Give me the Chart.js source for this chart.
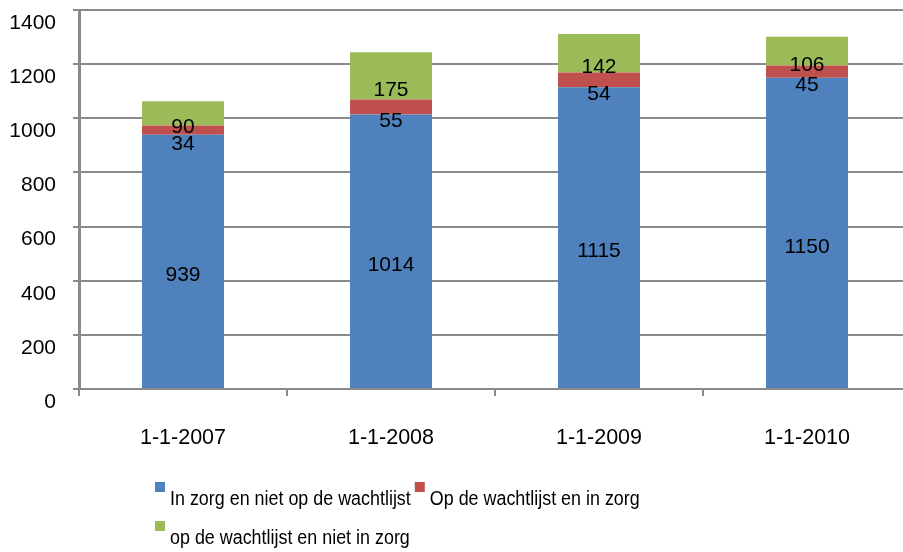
<!DOCTYPE html>
<html>
<head>
<meta charset="utf-8">
<script src="https://cdn.jsdelivr.net/npm/chart.js@4"></script>
<style>
    html, body { margin: 0; padding: 0; background: #fff; overflow: hidden; }
    #wrap { width: 903px; height: 552px; overflow: hidden; }
</style>
</head>
<body>
<div id="wrap"><canvas id="myChart" width="915" height="552"></canvas></div>
<script>
const categories = ['1-1-2007', '1-1-2008', '1-1-2009', '1-1-2010'];
const inZorg = [939, 1014, 1115, 1150];
const wachtInZorg = [34, 55, 54, 45];
const wachtNietInZorg = [90, 175, 142, 106];
const yTicks = [0, 200, 400, 600, 800, 1000, 1200, 1400];

const FONT = 'Liberation Sans, Arial, sans-serif';
const GRID = '#8a8a8a';

// Labels in the middle of each segment (shifted down a bit like the original)
const valueLabels = {
    id: 'valueLabels',
    afterDatasetsDraw(chart) {
        const ctx = chart.ctx;
        ctx.save();
        ctx.font = '21px ' + FONT;
        ctx.fillStyle = '#000';
        ctx.textAlign = 'center';
        ctx.textBaseline = 'middle';
        chart.data.datasets.forEach((ds, i) => {
            chart.getDatasetMeta(i).data.forEach((bar, j) => {
                const mid = (bar.y + bar.base) / 2;
                ctx.fillText(String(ds.data[j]), bar.x, mid + 14);
            });
        });
        ctx.restore();
    }
};

// Legend like the original: left aligned rows, slightly narrow text
const bottomLegend = {
    id: 'bottomLegend',
    afterDraw(chart) {
        const ctx = chart.ctx;
        const ds = chart.data.datasets;
        ctx.save();
        ctx.font = '20px ' + FONT;
        ctx.textBaseline = 'alphabetic';
        const rows = [[0, 1], [2]];
        const baselines = [505, 544];
        rows.forEach((row, r) => {
            let x = 155;
            row.forEach(i => {
                const w = ctx.measureText(ds[i].label).width * 0.895;
                ctx.fillStyle = ds[i].backgroundColor;
                ctx.fillRect(x, baselines[r] - 23, 10, 10);
                ctx.fillStyle = '#000';
                ctx.fillText(ds[i].label, x + 15, baselines[r], w);
                x += 15 + w + 4;
            });
        });
        ctx.restore();
    }
};

new Chart(document.getElementById('myChart'), {
    type: 'bar',
    data: {
        labels: categories,
        datasets: [
            {
                label: 'In zorg en niet op de wachtlijst',
                data: inZorg,
                backgroundColor: '#4F81BD'
            },
            {
                label: 'Op de wachtlijst en in zorg',
                data: wachtInZorg,
                backgroundColor: '#C0504D'
            },
            {
                label: 'op de wachtlijst en niet in zorg',
                data: wachtNietInZorg,
                backgroundColor: '#9BBB59'
            }
        ]
    },
    options: {
        responsive: false,
        animation: false,
        layout: { padding: { top: 10, right: 4, bottom: 92, left: 0 } },
        datasets: {
            bar: { categoryPercentage: 1, barPercentage: 0.394 }
        },
        plugins: {
            legend: { display: false },
            tooltip: { enabled: false }
        },
        scales: {
            x: {
                stacked: true,
                grid: {
                    drawOnChartArea: false,
                    drawTicks: true,
                    tickLength: 7,
                    color: GRID,
                    lineWidth: 2
                },
                border: { color: GRID, width: 2 },
                ticks: {
                    color: '#000',
                    font: { family: FONT, size: 21.5 },
                    padding: 29,
                    maxRotation: 0
                },
                afterFit: function (scale) {
                    scale.height = 71;
                    scale.paddingLeft = 0;
                    scale.paddingRight = 0;
                }
            },
            y: {
                stacked: true,
                min: 0,
                max: 1400,
                grid: {
                    color: GRID,
                    lineWidth: 2,
                    tickLength: 6
                },
                border: { color: GRID, width: 3 },
                afterBuildTicks: function (scale) {
                    scale.ticks = yTicks.map(v => ({ value: v }));
                },
                ticks: {
                    color: '#000',
                    font: { family: FONT, size: 21 },
                    padding: 17,
                    labelOffset: 13,
                    callback: function (value) { return String(value); }
                },
                afterFit: function (scale) {
                    scale.width = 79;
                    scale.paddingTop = 0;
                    scale.paddingBottom = 0;
                }
            }
        }
    },
    plugins: [valueLabels, bottomLegend]
});
</script>
</body>
</html>
